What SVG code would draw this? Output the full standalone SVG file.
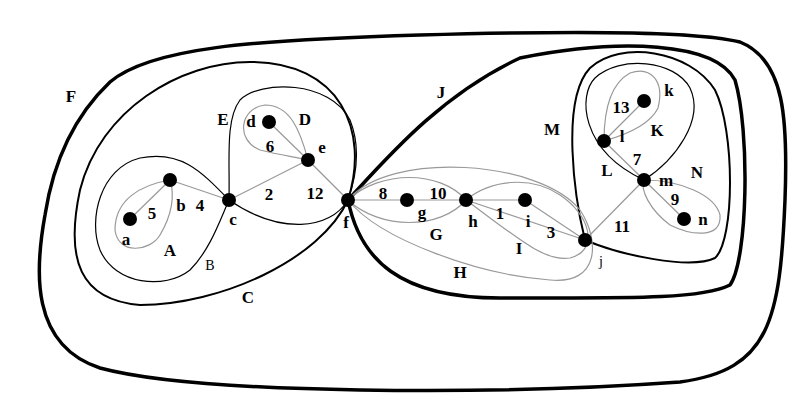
<svg xmlns="http://www.w3.org/2000/svg" width="800" height="416" viewBox="0 0 800 416">
<style>
.t{font-family:"Liberation Serif",serif;font-weight:bold;font-size:17px;fill:#000;text-anchor:middle}
.n{fill:#000}
.th{fill:none;stroke:#000;stroke-width:3.5}
.md{fill:none;stroke:#000;stroke-width:2}
.tn{fill:none;stroke:#000;stroke-width:1.2}
.g{fill:none;stroke:#999;stroke-width:1.2}
</style>
<rect width="800" height="416" fill="#fff"/>
<g id="F"><path class="th" d="M110,82 C150,48 250,40 420,35 C600,30 700,32 740,42 C785,60 788,120 785,200 C780,320 770,370 680,382 C500,395 200,395 100,368 C30,345 35,270 45,215 C52,170 70,120 110,82 Z"/></g>
<g id="C"><path class="md" d="M348,200 C370,130 340,62 250,62 C180,62 100,110 80,190 C65,260 80,300 140,305 C220,305 320,260 348,200 Z"/></g>
<g id="J"><path class="th" d="M348,200 C385,160 440,95 520,58 C620,38 715,42 735,80 C750,130 748,260 730,285 C700,300 620,298 500,298 C400,298 360,260 348,200 Z"/></g>
<g id="M"><path class="md" d="M585,240 C575,200 560,100 590,68 C620,40 690,50 715,90 C735,130 735,240 715,258 C690,270 620,255 585,240 Z"/></g>
<g id="B"><path class="tn" d="M229,200 C200,170 180,150 140,158 C100,168 88,220 100,250 C115,285 165,290 190,270 C210,250 220,220 229,200 Z"/></g>
<g id="A"><path class="g" d="M170,180 C140,185 115,200 115,230 C118,255 150,252 160,235 C172,215 175,195 170,180 Z"/></g>
<g id="E"><path class="tn" d="M229,200 C230,160 225,120 240,100 C260,80 330,80 350,120 C362,150 355,180 348,200 C330,230 280,235 229,200 Z"/></g>
<g id="D"><path class="g" d="M308,160 C300,130 290,105 265,105 C240,108 235,140 260,150 C280,155 295,157 308,160 Z"/></g>
<g id="G"><path class="g" d="M348,200 C380,170 440,170 466,200 C440,230 380,230 348,200 Z"/></g>
<g id="I"><path class="g" d="M466,200 C490,180 530,175 560,195 C590,215 600,250 570,258 C545,262 520,240 466,200 Z"/></g>
<g id="H"><path class="g" d="M348,200 C390,150 540,160 580,210 C600,240 600,285 550,280 C480,275 380,240 348,200 Z"/></g>
<g id="L"><path class="tn" d="M644,180 C675,160 705,120 690,88 C675,60 620,55 595,78 C578,95 580,150 644,180 Z"/></g>
<g id="K"><path class="g" d="M604,141 C604,115 608,85 630,73 C650,66 665,80 658,108 C650,125 625,135 604,141 Z"/></g>
<g id="N"><path class="g" d="M644,180 C680,180 715,195 720,215 C722,240 690,235 670,225 C650,210 640,190 644,180 Z"/></g>
<g id="connectors" stroke="#999" stroke-width="1.2">
<line x1="130" y1="219" x2="170" y2="180"/>
<line x1="170" y1="180" x2="229" y2="200"/>
<line x1="229" y1="200" x2="308" y2="160"/>
<line x1="269" y1="122" x2="308" y2="160"/>
<line x1="308" y1="160" x2="348" y2="200"/>
<line x1="348" y1="200" x2="525" y2="200"/>
<line x1="466" y1="200" x2="585" y2="240"/>
<line x1="525" y1="200" x2="585" y2="240"/>
<line x1="585" y1="240" x2="644" y2="180"/>
<line x1="604" y1="141" x2="644" y2="180"/>
<line x1="604" y1="141" x2="644" y2="101"/>
<line x1="644" y1="180" x2="684" y2="219"/>
</g>
<g id="nodes" class="n">
<circle cx="130" cy="219" r="7"/><circle cx="170" cy="180" r="7"/><circle cx="229" cy="200" r="7"/>
<circle cx="269" cy="122" r="7"/><circle cx="308" cy="160" r="7"/><circle cx="348" cy="200" r="7"/>
<circle cx="407" cy="200" r="7"/><circle cx="466" cy="200" r="7"/><circle cx="525" cy="200" r="7"/>
<circle cx="585" cy="240" r="7"/><circle cx="644" cy="101" r="7"/><circle cx="604" cy="141" r="7"/>
<circle cx="644" cy="180" r="7"/><circle cx="684" cy="219" r="7"/>
</g>
<g id="labels">
<text class="t" x="71" y="102">F</text><text class="t" x="441" y="98">J</text>
<text class="t" x="126" y="245">a</text><text class="t" x="181" y="211">b</text><text class="t" x="233" y="225">c</text>
<text class="t" x="251" y="127">d</text><text class="t" x="322" y="153">e</text><text class="t" x="346" y="228">f</text>
<text class="t" x="422" y="218">g</text><text class="t" x="473" y="227">h</text><text class="t" x="528" y="227">i</text>
<text x="601" y="266" style="font-family:'Liberation Serif',serif;font-size:14px" text-anchor="middle">j</text>
<text class="t" x="669" y="96">k</text><text class="t" x="622" y="142">l</text><text class="t" x="666" y="186">m</text><text class="t" x="703" y="225">n</text>
<text class="t" x="152" y="219">5</text><text class="t" x="200" y="211">4</text><text class="t" x="269" y="200">2</text>
<text class="t" x="270" y="152">6</text><text class="t" x="315" y="199">12</text>
<text class="t" x="383" y="199">8</text><text class="t" x="438" y="199">10</text><text class="t" x="500" y="219">1</text>
<text class="t" x="551" y="238">3</text><text class="t" x="622" y="232">11</text><text class="t" x="637" y="165">7</text>
<text class="t" x="621" y="113">13</text><text class="t" x="675" y="205">9</text>
<text class="t" x="170" y="256">A</text><text x="210" y="270" style="font-family:'Liberation Serif',serif;font-size:14px" text-anchor="middle">B</text>
<text class="t" x="248" y="303">C</text><text class="t" x="305" y="125">D</text><text class="t" x="223" y="125">E</text>
<text class="t" x="436" y="240">G</text><text class="t" x="460" y="278">H</text><text class="t" x="519" y="254">I</text>
<text class="t" x="657" y="136">K</text><text class="t" x="607" y="176">L</text><text class="t" x="552" y="135">M</text><text class="t" x="697" y="178">N</text>
</g>
</svg>
